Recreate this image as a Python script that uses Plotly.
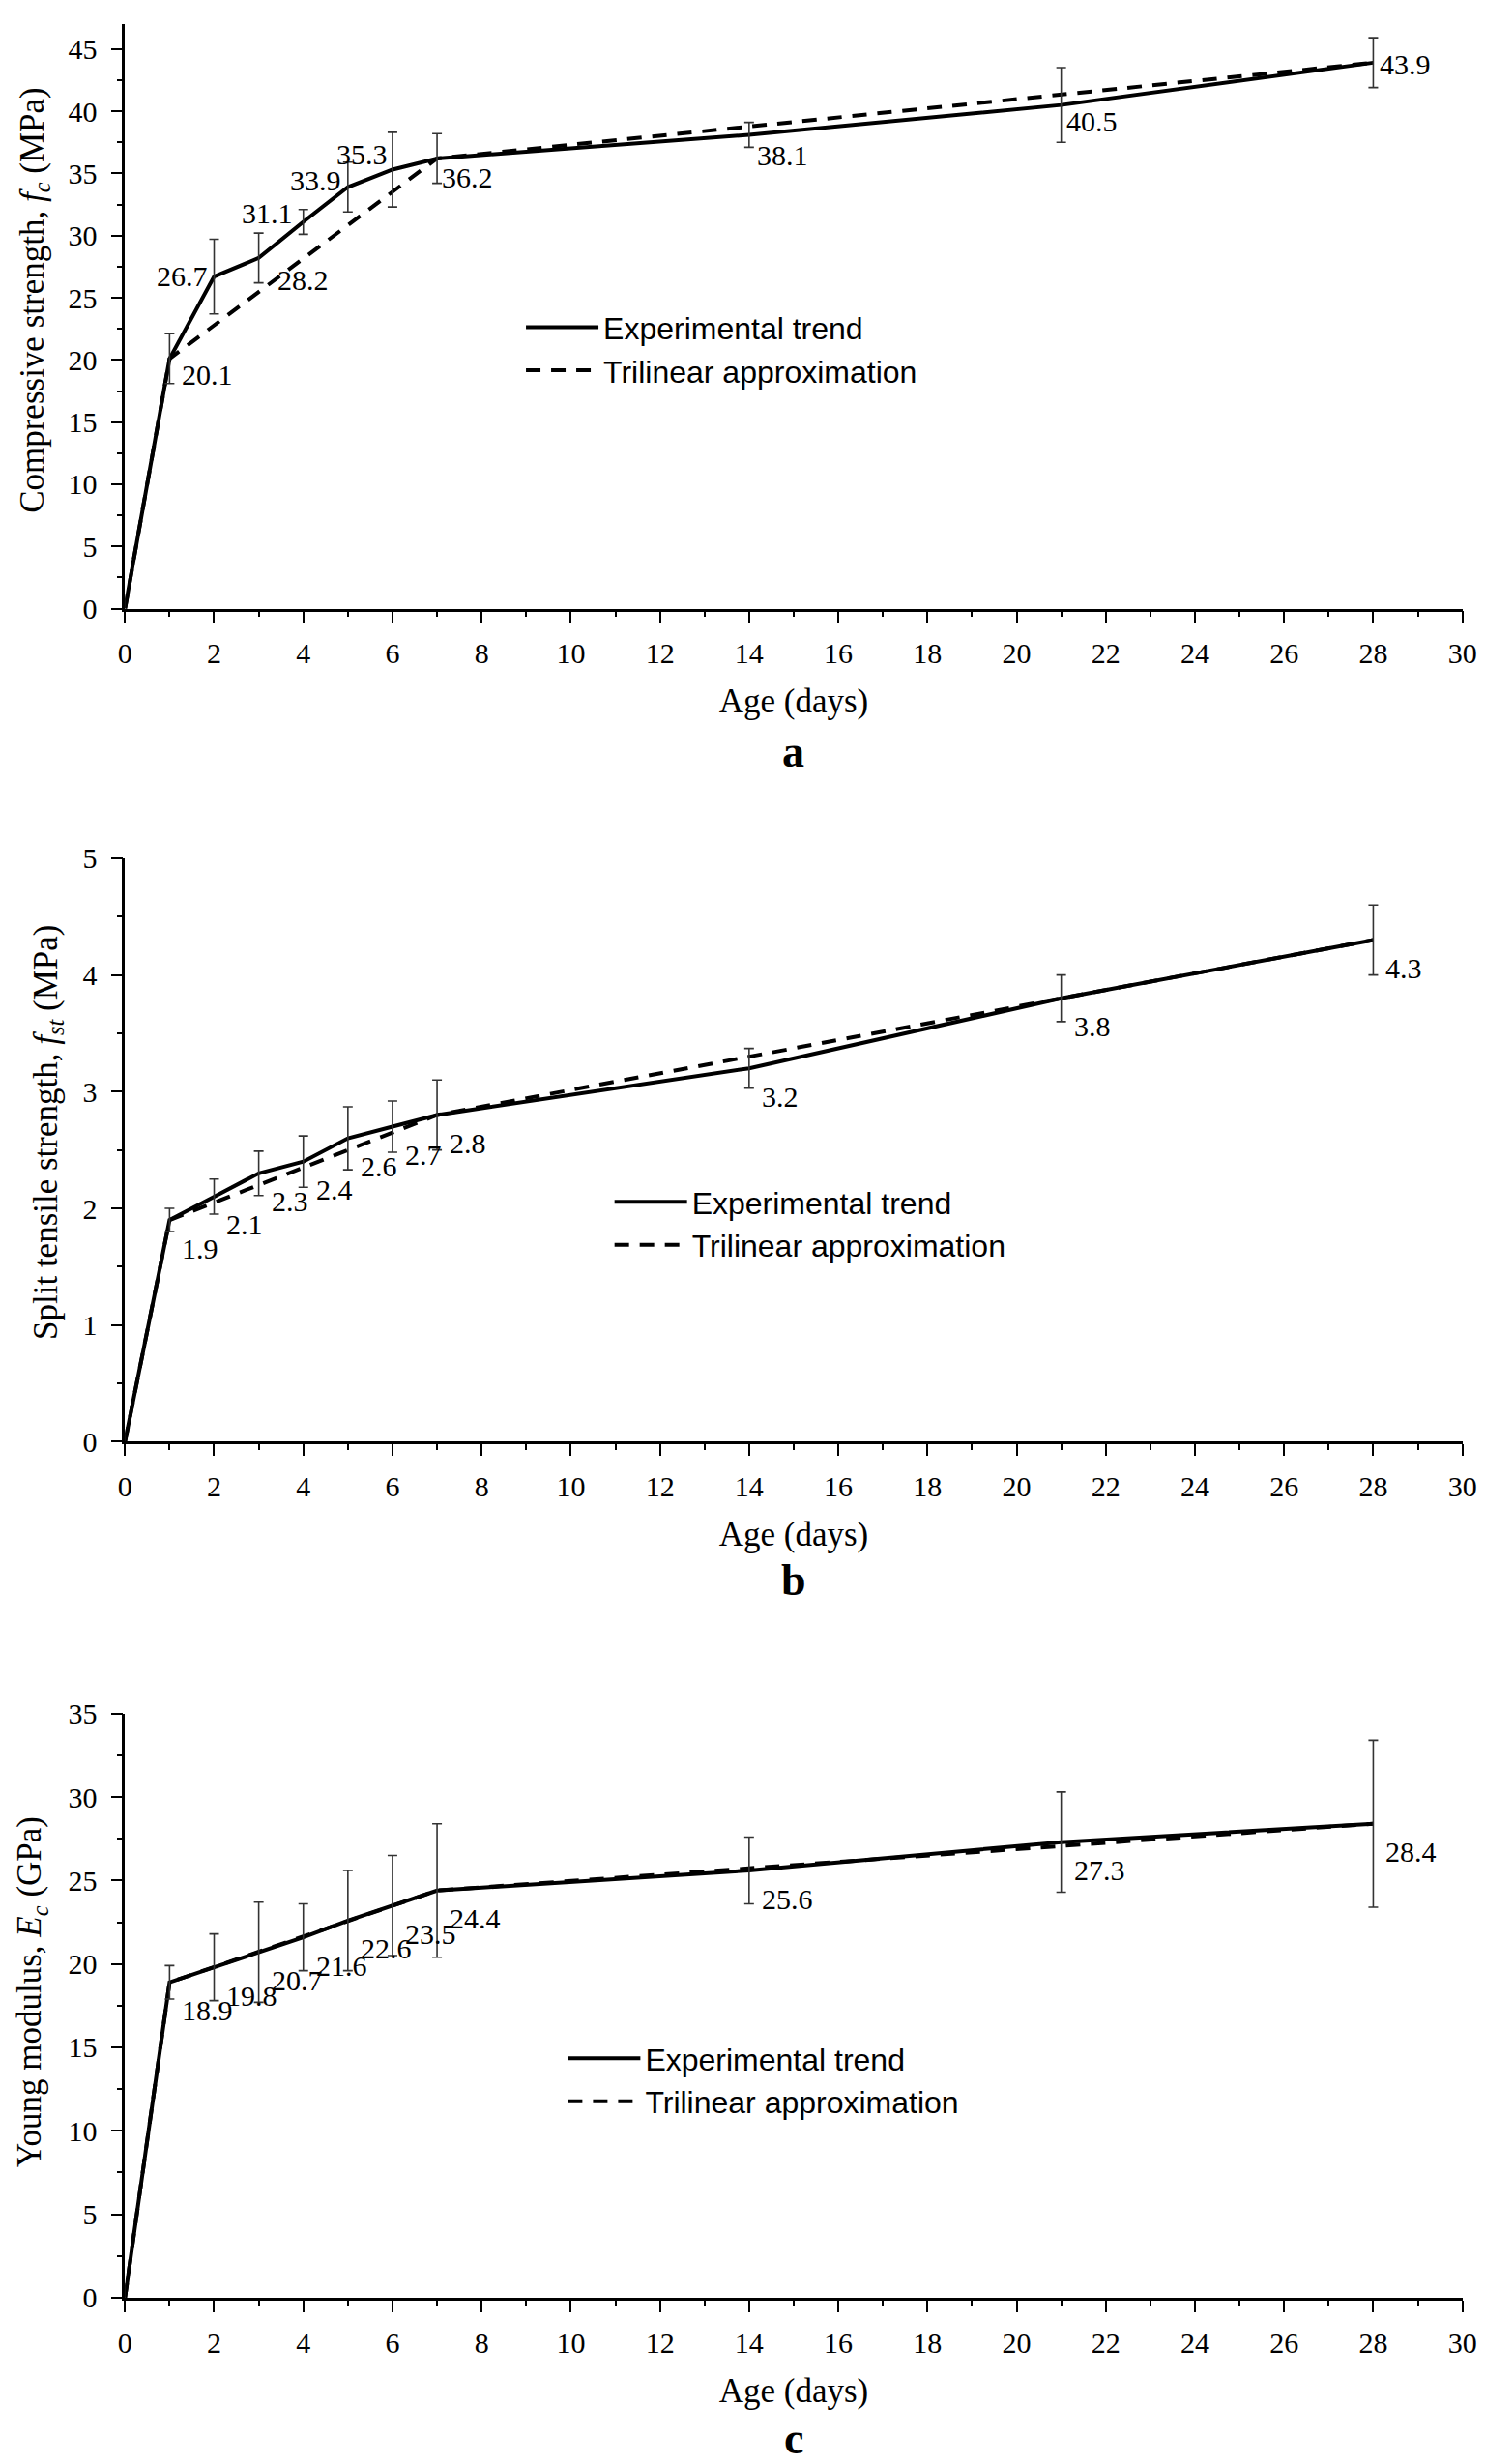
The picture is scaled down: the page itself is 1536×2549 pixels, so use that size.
import plotly.graph_objects as go

# ---------------- data ----------------
days = [0, 1, 2, 3, 4, 5, 6, 7, 14, 21, 28]
fc = [0, 20.1, 26.7, 28.2, 31.1, 33.9, 35.3, 36.2, 38.1, 40.5, 43.9]
fc_err = [0, 2, 3, 2, 1, 2, 3, 2, 1, 3, 2]
fst = [0, 1.9, 2.1, 2.3, 2.4, 2.6, 2.7, 2.8, 3.2, 3.8, 4.3]
fst_err = [0, 0.1, 0.15, 0.19, 0.22, 0.27, 0.22, 0.3, 0.17, 0.2, 0.3]
ec = [0, 18.9, 19.8, 20.7, 21.6, 22.6, 23.5, 24.4, 25.6, 27.3, 28.4]
ec_err = [0, 1, 2, 3, 2, 3, 3, 4, 2, 3, 5]

tri_days = [0, 1, 7, 28]
fc_tri = [0, 20.1, 36.2, 43.9]
fst_tri = [0, 1.9, 2.8, 4.3]
ec_tri = [0, 18.9, 24.4, 28.4]

series_names = ["Experimental trend", "Trilinear approximation"]
y_titles = [
    "Compressive strength, <i>f</i><sub><i>c</i></sub> (MPa)",
    "Split tensile strength, <i>f</i><sub><i>st</i></sub> (MPa)",
    "Young modulus, <i>E</i><sub><i>c</i></sub> (GPa)",
]
x_title = "Age (days)"
panel_letters = ["a", "b", "c"]
y_ranges = [(0, 47), (0, 5), (0, 35)]
y_dticks = [5, 1, 5]

# ---------------- styling / layout ----------------
W, H = 1536, 2549
def py(p):
    return 1 - p / H

SERIF = "Liberation Serif"
SANS = "Liberation Sans"
X_DOM = [115 / W, 1519.4 / W]
# (bottom px, top px) of each plot area
Y_PX = [(612.8, 0.0), (1486.2, 874.6), (2383.7, 1771.4)]
YTITLE_POS = [(19, 289), (34, 1161), (17, 2063)]
LEGEND_TEXT_X = [618, 711, 662]
LEGEND_ROW1_Y = [312, 1229, 2127]
LETTER_OFFSET = [150, 145, 148]

# label placement style: (anchor, xshift, yshift)
label_style_a = [("left", 11, -16), ("right", -4, 1), ("left", 17, -23), ("right", -9, 9),
                 ("right", -5, 7), ("right", -3, 16), ("left", 3, -20), ("left", 6, -21),
                 ("left", 3, -17), ("left", 5, -2)]
label_style_bc = [("left", 11, -29)] * 10
label_styles = [label_style_a, label_style_bc, label_style_bc]

exp_vals = [fc, fst, ec]
exp_errs = [fc_err, fst_err, ec_err]
tri_vals = [fc_tri, fst_tri, ec_tri]

fig = go.Figure()
annotations = []
legend_names = ["legend", "legend2", "legend3"]

for i in range(3):
    xa = "x" if i == 0 else f"x{i+1}"
    ya = "y" if i == 0 else f"y{i+1}"
    lg = legend_names[i]
    # trilinear dashed
    fig.add_trace(go.Scatter(
        x=tri_days, y=tri_vals[i], mode="lines", name=series_names[1],
        line=dict(color="black", width=4, dash="15px,11px"),
        xaxis=xa, yaxis=ya, legend=lg, legendrank=2, hoverinfo="skip"))
    # experimental solid
    fig.add_trace(go.Scatter(
        x=days, y=exp_vals[i], mode="lines", name=series_names[0],
        line=dict(color="black", width=4),
        xaxis=xa, yaxis=ya, legend=lg, legendrank=1, hoverinfo="skip"))
    # error bars
    fig.add_trace(go.Scatter(
        x=days[1:], y=exp_vals[i][1:], mode="markers",
        marker=dict(size=1, opacity=0, color="black"),
        error_y=dict(type="data", array=exp_errs[i][1:], visible=True,
                     color="#333333", thickness=1.6, width=5),
        xaxis=xa, yaxis=ya, showlegend=False, hoverinfo="skip"))
    # value labels
    for d, v, (anc, xs, ys) in zip(days[1:], exp_vals[i][1:], label_styles[i]):
        annotations.append(dict(
            x=d, y=v, xref=xa, yref=ya, text=f"{v}", showarrow=False,
            xanchor=anc, yanchor="middle", xshift=xs, yshift=ys,
            font=dict(family=SERIF, size=30, color="black")))
    # panel letter
    bpx, tpx = Y_PX[i]
    annotations.append(dict(
        x=0.5 * (X_DOM[0] + X_DOM[1]), y=py(bpx + LETTER_OFFSET[i]), xref="paper", yref="paper",
        text=f"<b>{panel_letters[i]}</b>", showarrow=False, xanchor="center", yanchor="middle",
        font=dict(family=SERIF, size=46, color="black")))
    # y-axis title
    tx, ty = YTITLE_POS[i]
    annotations.append(dict(
        x=tx / W, y=py(ty), xref="paper", yref="paper", text=y_titles[i],
        showarrow=False, textangle=-90, xanchor="center", yanchor="middle",
        font=dict(family=SERIF, size=35, color="black")))

axis_common = dict(
    showline=True, linecolor="black", linewidth=2.5, showgrid=False, zeroline=False,
    ticks="outside", ticklen=12, tickwidth=2, tickcolor="black",
    tickfont=dict(family=SERIF, size=30, color="black"),
)
layout = dict(
    width=W, height=H, margin=dict(l=0, r=0, t=0, b=0),
    paper_bgcolor="white", plot_bgcolor="white", annotations=annotations,
)
for i in range(3):
    xk = "xaxis" if i == 0 else f"xaxis{i+1}"
    yk = "yaxis" if i == 0 else f"yaxis{i+1}"
    ya = "y" if i == 0 else f"y{i+1}"
    xa = "x" if i == 0 else f"x{i+1}"
    bpx, tpx = Y_PX[i]
    layout[xk] = dict(axis_common, domain=X_DOM, anchor=ya, range=[0, 30], dtick=2, tick0=0,
                      minor=dict(dtick=1, ticklen=6, tickwidth=2, tickcolor="black", ticks="outside"),
                      ticklabelstandoff=6,
                      title=dict(text=x_title, standoff=22,
                                 font=dict(family=SERIF, size=35, color="black")))
    layout[yk] = dict(axis_common, domain=[py(bpx), min(1, py(tpx))], anchor=xa,
                      range=list(y_ranges[i]), dtick=y_dticks[i], tick0=0,
                      minor=dict(dtick=y_dticks[i] / 2, ticklen=6, tickwidth=2, tickcolor="black", ticks="outside"),
                      ticklabelstandoff=8)
    layout[legend_names[i]] = dict(
        x=(LEGEND_TEXT_X[i] - 87) / W, y=py(LEGEND_ROW1_Y[i] - 22), xanchor="left", yanchor="top",
        bgcolor="rgba(0,0,0,0)", borderwidth=0, itemwidth=75, tracegroupgap=0,
        font=dict(family=SANS, size=32, color="black"))

fig.update_layout(**layout)
fig.write_html("out.html")
